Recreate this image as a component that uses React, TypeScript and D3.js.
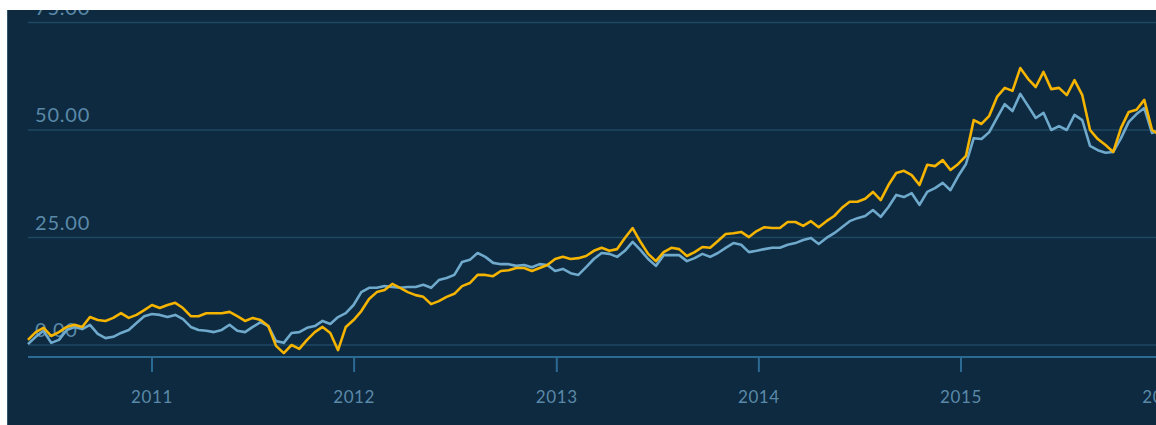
import React from "react"
import * as d3 from "d3"

/** Sampled every two weeks, starting late May 2010 */
const startDate = new Date(2010, 4, 22)

const goldSeries = [
	1.2, 3.0, 4.0, 2.1, 3.0, 4.2, 4.7, 4.2, 6.5, 5.8, 5.6, 6.3, 7.4, 6.3, 7.0, 8.1, 9.3, 8.6, 9.3, 9.8,
	8.6, 6.7, 6.7, 7.4, 7.4, 7.4, 7.7, 6.7, 5.6, 6.3, 5.8, 4.4, -0.2, -1.9, 0.0, -0.9, 1.2, 3.0, 4.2, 2.8,
	-1.2, 4.2, 5.8, 7.9, 10.7, 12.3, 12.8, 14.2, 13.3, 12.3, 11.6, 11.2, 9.5, 10.2, 11.2, 11.9, 13.7, 14.4, 16.3, 16.3,
	16.0, 17.2, 17.4, 17.9, 17.9, 17.2, 17.9, 18.6, 20.0, 20.5, 20.0, 20.2, 20.7, 21.9, 22.6, 21.9, 22.3, 24.9, 27.2, 24.0,
	21.2, 19.5, 21.6, 22.6, 22.3, 20.7, 21.6, 22.8, 22.6, 24.2, 25.8, 26.0, 26.3, 25.1, 26.5, 27.4, 27.2, 27.2, 28.6, 28.6,
	27.7, 28.8, 27.4, 28.8, 30.0, 31.9, 33.3, 33.3, 34.0, 35.6, 33.7, 37.2, 40.0, 40.5, 39.5, 37.2, 41.9, 41.6, 43.0, 40.7,
	42.1, 44.0, 52.3, 51.4, 53.3, 57.7, 59.8, 59.1, 64.4, 61.9, 60.0, 63.5, 59.5, 59.8, 58.1, 61.6, 58.1, 50.0, 47.9, 46.5,
	44.9, 50.5, 54.2, 54.7, 57.0, 50.0, 48.8,
]

const blueSeries = [
	0.2, 1.9, 3.3, 0.5, 1.2, 3.5, 4.2, 3.7, 4.7, 2.6, 1.6, 1.9, 2.8, 3.5, 5.1, 6.7, 7.2, 7.0, 6.5, 7.0,
	6.0, 4.2, 3.5, 3.3, 3.0, 3.5, 4.7, 3.3, 3.0, 4.2, 5.3, 4.4, 0.9, 0.5, 2.8, 3.0, 4.0, 4.4, 5.6, 4.9,
	6.5, 7.4, 9.3, 12.3, 13.3, 13.3, 13.7, 13.5, 13.3, 13.5, 13.5, 14.0, 13.3, 15.1, 15.6, 16.3, 19.3, 19.8, 21.4, 20.5,
	19.1, 18.8, 18.8, 18.4, 18.6, 18.1, 18.8, 18.6, 17.2, 17.7, 16.7, 16.3, 18.1, 20.0, 21.4, 21.2, 20.5, 21.9, 24.0, 22.1,
	20.0, 18.4, 20.9, 20.9, 20.9, 19.5, 20.2, 21.2, 20.5, 21.4, 22.6, 23.7, 23.3, 21.6, 21.9, 22.3, 22.6, 22.6, 23.3, 23.7,
	24.4, 24.9, 23.5, 24.9, 26.0, 27.4, 28.8, 29.5, 30.0, 31.4, 29.8, 32.1, 34.9, 34.4, 35.3, 32.6, 35.6, 36.5, 37.7, 36.0,
	39.3, 42.1, 48.1, 47.9, 49.5, 52.8, 56.0, 54.4, 58.4, 55.6, 52.8, 54.0, 50.0, 50.9, 50.0, 53.5, 52.3, 46.3, 45.3, 44.7,
	44.9, 48.1, 51.9, 53.7, 55.1, 49.3, 50.0,
]

const yTicks = [0, 25, 50, 75]
const xTickYears = [2011, 2012, 2013, 2014, 2015, 2016]

export default function App() {
	const width = 1156
	const height = 425

	/** dark panel edges */
	const panelLeft = 7
	const panelTop = 10
	const plotLeft = 28
	const axisY = 357

	const dates = goldSeries.map((_, i) => d3.timeDay.offset(startDate, 14 * i))

	const xScale = d3.scaleTime()
		.domain([new Date(2011, 0, 1), new Date(2015, 0, 1)])
		.range([152, 961])

	const yScale = d3.scaleLinear()
		.domain([0, 75])
		.range([345, 22.5])

	const lineGen = d3.line<number>()
		.x((_, i) => xScale(dates[i]))
		.y(d => yScale(d))

	return (
		<svg
			width={width}
			height={height}
			style={{ position: "absolute", left: 0, top: 0, background: "#ffffff" }}
		>
			<defs>
				<clipPath id="panel-clip">
					<rect x={panelLeft} y={panelTop} width={width - panelLeft} height={height - panelTop} />
				</clipPath>
			</defs>
			<g clipPath="url(#panel-clip)">
				<rect x={panelLeft} y={panelTop} width={width - panelLeft} height={height - panelTop} fill="#0e2a40" />
				<line x1={panelLeft + 0.5} x2={panelLeft + 0.5} y1={panelTop} y2={height} stroke="#34546a" strokeWidth={1} />

				{/* horizontal grid + value labels */}
				{yTicks.map(t => (
					<g key={t}>
						<line x1={plotLeft} x2={width} y1={yScale(t)} y2={yScale(t)} stroke="#1f4862" strokeWidth={1.5} />
						<text
							x={35}
							y={yScale(t) - 8}
							fill="#5a89a8"
							fontFamily="Lato, 'Open Sans', sans-serif"
							fontSize={20}
							letterSpacing={0.8}
						>
							{d3.format(".2f")(t)}
						</text>
					</g>
				))}

				{/* x axis */}
				<line x1={plotLeft} x2={width} y1={axisY} y2={axisY} stroke="#2b6a92" strokeWidth={2} />
				{xTickYears.map(yr => {
					const x = xScale(new Date(yr, 0, 1))
					return (
						<g key={yr}>
							<line x1={x} x2={x} y1={axisY} y2={axisY + 15} stroke="#2b6a92" strokeWidth={2} />
							<text
								x={x}
								y={403}
								textAnchor="middle"
								fill="#5a89a8"
								fontFamily="Lato, 'Open Sans', sans-serif"
								fontSize={17}
								letterSpacing={0.6}
							>
								{yr}
							</text>
						</g>
					)
				})}

				{/* series */}
				<path d={lineGen(blueSeries) ?? ""} fill="none" stroke="#6fa9cb" strokeWidth={2.6} strokeLinejoin="round" />
				<path d={lineGen(goldSeries) ?? ""} fill="none" stroke="#f4b400" strokeWidth={2.6} strokeLinejoin="round" />
			</g>
		</svg>
	)
}
